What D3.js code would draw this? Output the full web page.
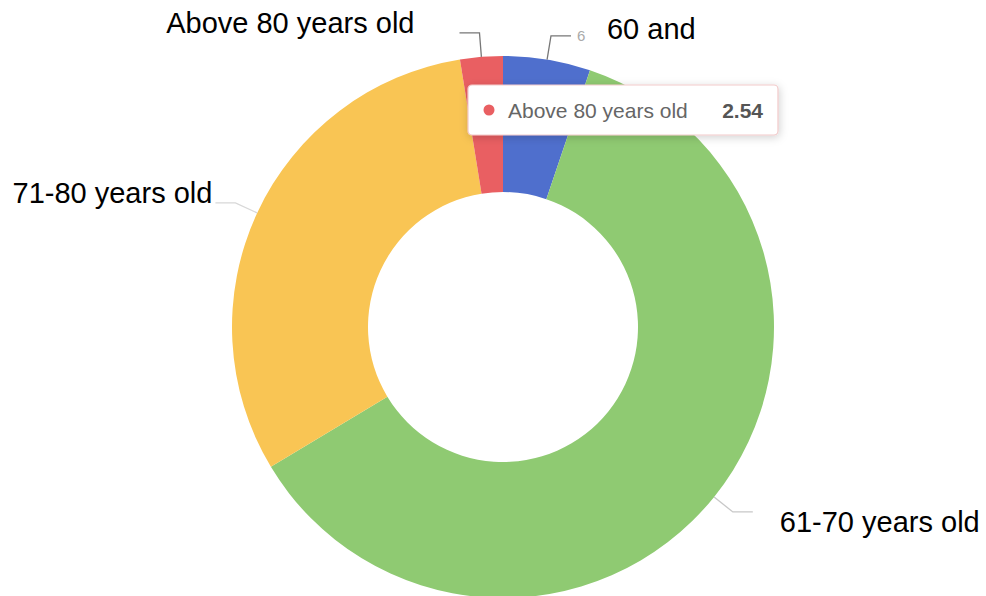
<!DOCTYPE html>
<html>
<head>
<meta charset="utf-8">
<script src="https://cdn.jsdelivr.net/npm/d3@7"></script>
<style>
  html, body { margin: 0; padding: 0; background: #fff; }
  #chart { width: 986px; height: 596px; }
</style>
</head>
<body>
<div id="chart"></div>
<script>
// slices in drawing order (clockwise from 12 o'clock)
const categories = ['60 and under', '61-70 years old', '71-80 years old', 'Above 80 years old']
const values = [5.2, 61.17, 31.09, 2.54]
// english labels pasted over the original chart labels
const labels = ['60 and', '61-70 years old', '71-80 years old', 'Above 80 years old']
const tooltipIndex = 3

let w = 986,
  h = 596,
  cx = 503,
  cy = 327,
  outerR = 271,
  innerR = 135,
  color = ['#4f6fcd', '#8fca72', '#f9c554', '#e95f62'],
  lineColor = ['#777', '#c8c8c8', '#d8d8d8', '#777'],
  // label offset from the end of its leader line
  labelOffset = [[36, 3], [27, 20], [-3, 0], [-45, 0]]

let data = categories.map((c, i) => ({ name: c, value: values[i], label: labels[i] }))

let pie = d3.pie().sort(null).value(d => d.value)
let arc = d3.arc().innerRadius(innerR).outerRadius(outerR)
let arcs = pie(data)

let svg = d3.select('#chart').append('svg')
  .attr('width', w)
  .attr('height', h)
  .style('font-family', 'Arial, "Liberation Sans", sans-serif')

let defs = svg.append('defs')
let shadow = defs.append('filter').attr('id', 'shadow')
  .attr('x', '-10%').attr('y', '-30%').attr('width', '120%').attr('height', '160%')
shadow.append('feDropShadow')
  .attr('dx', 1).attr('dy', 2).attr('stdDeviation', 4)
  .attr('flood-color', '#000').attr('flood-opacity', 0.18)

let g = svg.append('g').attr('transform', `translate(${cx}, ${cy})`)

// slices
g.selectAll('path.slice')
  .data(arcs)
  .enter()
  .append('path')
  .attr('class', 'slice')
  .attr('d', arc)
  .attr('fill', (d, i) => color[i])

// leader lines: radial piece then horizontal piece
function leader (d) {
  let a = (d.startAngle + d.endAngle) / 2
  let p0 = [Math.sin(a) * outerR, -Math.cos(a) * outerR]
  let p1 = [Math.sin(a) * (outerR + 24), -Math.cos(a) * (outerR + 24)]
  let dir = Math.sin(a) >= 0 ? 1 : -1
  let p2 = [p1[0] + dir * 20, p1[1]]
  return { pts: [p0, p1, p2], dir: dir }
}

g.selectAll('polyline.leader')
  .data(arcs)
  .enter()
  .append('polyline')
  .attr('class', 'leader')
  .attr('points', d => leader(d).pts.map(p => p.join(',')).join(' '))
  .attr('fill', 'none')
  .attr('stroke', (d, i) => lineColor[i])
  .attr('stroke-width', 1.3)

// what is left visible of the original grey label of the first slice
let first = leader(arcs[0])
g.append('text')
  .attr('x', first.pts[2][0] + 6)
  .attr('y', first.pts[2][1] + 5)
  .text(categories[0].slice(0, 1))
  .style('fill', '#aaa')
  .style('font-size', '15px')

// pasted english labels
let lab = g.selectAll('g.lab')
  .data(arcs)
  .enter()
  .append('g')
  .attr('class', 'lab')
  .attr('transform', (d, i) => {
    let end = leader(d).pts[2]
    return `translate(${end[0] + labelOffset[i][0]}, ${end[1] + labelOffset[i][1]})`
  })

lab.append('text')
  .text(d => d.data.label)
  .attr('text-anchor', d => leader(d).dir > 0 ? 'start' : 'end')
  .style('fill', '#000')
  .style('font-size', '29px')

// tooltip over the red slice
let t = arcs[tooltipIndex]
let tip = g.append('g').attr('transform', 'translate(-35, -242)')
tip.append('rect')
  .attr('width', 310)
  .attr('height', 50)
  .attr('rx', 4)
  .attr('fill', '#fff')
  .attr('stroke', '#f1c9c9')
  .attr('stroke-width', 1.2)
  .attr('filter', 'url(#shadow)')
tip.append('circle')
  .attr('cx', 21)
  .attr('cy', 25)
  .attr('r', 5.5)
  .attr('fill', color[tooltipIndex])
tip.append('text')
  .attr('x', 40)
  .attr('y', 33)
  .text(t.data.name)
  .style('fill', '#666')
  .style('font-size', '21px')
tip.append('text')
  .attr('x', 295)
  .attr('y', 33)
  .attr('text-anchor', 'end')
  .text(t.data.value.toFixed(2))
  .style('fill', '#555')
  .style('font-size', '21px')
  .style('font-weight', 'bold')
</script>
</body>
</html>
